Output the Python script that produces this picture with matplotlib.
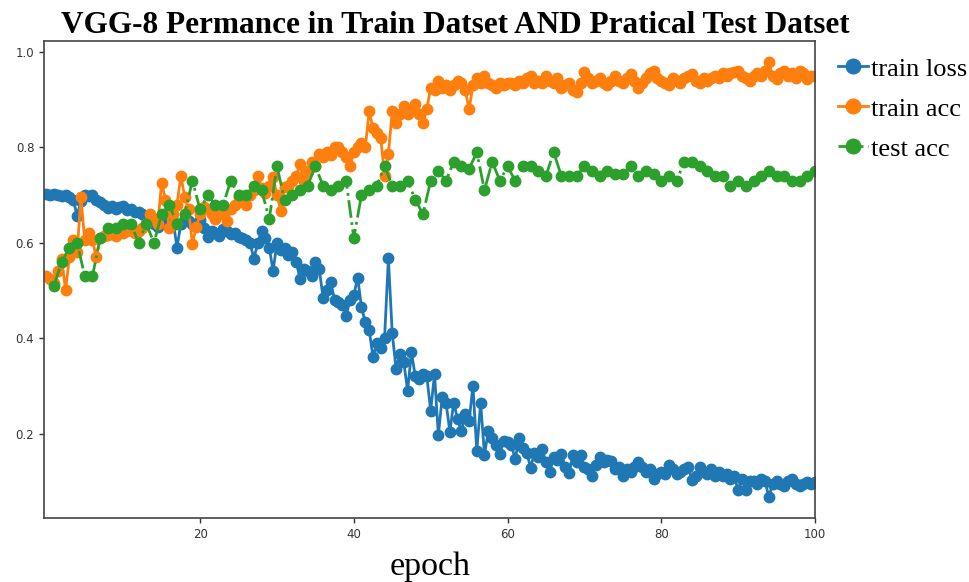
import numpy as np
import matplotlib
matplotlib.use("Agg")
import matplotlib.pyplot as plt

# train metrics are logged twice per epoch (0, 0.5, ..., 100)
train_loss = [
    0.703, 0.701, 0.702, 0.700, 0.699, 0.700, 0.695, 0.690, 0.657, 0.688,
    0.700, 0.697, 0.700, 0.690, 0.686, 0.680, 0.672, 0.676, 0.670, 0.674,
    0.676, 0.668, 0.670, 0.665, 0.664, 0.660, 0.655, 0.650, 0.640, 0.633,
    0.645, 0.650, 0.640, 0.645, 0.590, 0.640, 0.652, 0.645, 0.640, 0.635,
    0.647, 0.630, 0.613, 0.625, 0.620, 0.615, 0.628, 0.625, 0.618, 0.620,
    0.613, 0.610, 0.605, 0.600, 0.566, 0.600, 0.625, 0.610, 0.590, 0.541,
    0.600, 0.585, 0.590, 0.575, 0.580, 0.560, 0.525, 0.545, 0.540, 0.530,
    0.560, 0.545, 0.485, 0.500, 0.517, 0.480, 0.475, 0.470, 0.447, 0.480,
    0.490, 0.527, 0.465, 0.433, 0.417, 0.360, 0.390, 0.380, 0.400, 0.567,
    0.410, 0.336, 0.367, 0.350, 0.290, 0.370, 0.320, 0.315, 0.325, 0.320,
    0.248, 0.325, 0.196, 0.277, 0.264, 0.204, 0.265, 0.230, 0.205, 0.240,
    0.226, 0.300, 0.164, 0.264, 0.156, 0.205, 0.190, 0.175, 0.158, 0.185,
    0.182, 0.175, 0.147, 0.190, 0.170, 0.160, 0.128, 0.160, 0.150, 0.167,
    0.140, 0.120, 0.150, 0.145, 0.158, 0.130, 0.118, 0.154, 0.140, 0.154,
    0.130, 0.125, 0.110, 0.135, 0.150, 0.140, 0.145, 0.143, 0.125, 0.130,
    0.110, 0.125, 0.120, 0.130, 0.140, 0.130, 0.120, 0.125, 0.105, 0.115,
    0.120, 0.115, 0.135, 0.125, 0.115, 0.120, 0.125, 0.130, 0.102, 0.110,
    0.130, 0.120, 0.115, 0.125, 0.110, 0.120, 0.110, 0.115, 0.105, 0.110,
    0.081, 0.105, 0.081, 0.100, 0.100, 0.095, 0.105, 0.100, 0.067, 0.095,
    0.100, 0.095, 0.090, 0.100, 0.105, 0.095, 0.090, 0.095, 0.098, 0.095,
    0.098,
]

train_acc = [
    0.531, 0.525, 0.515, 0.540, 0.565, 0.500, 0.570, 0.605, 0.580, 0.695,
    0.605, 0.620, 0.605, 0.570, 0.610, 0.615, 0.617, 0.625, 0.615, 0.620,
    0.620, 0.625, 0.630, 0.620, 0.625, 0.630, 0.640, 0.660, 0.650, 0.640,
    0.726, 0.690, 0.630, 0.660, 0.680, 0.740, 0.696, 0.670, 0.598, 0.633,
    0.660, 0.675, 0.670, 0.660, 0.650, 0.665, 0.660, 0.646, 0.670, 0.680,
    0.696, 0.690, 0.680, 0.700, 0.710, 0.740, 0.715, 0.705, 0.720, 0.737,
    0.700, 0.667, 0.717, 0.720, 0.730, 0.740, 0.765, 0.730, 0.750, 0.770,
    0.760, 0.786, 0.780, 0.790, 0.785, 0.800, 0.800, 0.790, 0.780, 0.760,
    0.790, 0.800, 0.810, 0.800, 0.876, 0.840, 0.830, 0.820, 0.740, 0.786,
    0.876, 0.850, 0.870, 0.886, 0.870, 0.880, 0.890, 0.870, 0.850, 0.880,
    0.925, 0.920, 0.940, 0.925, 0.930, 0.920, 0.930, 0.940, 0.935, 0.920,
    0.880, 0.930, 0.945, 0.935, 0.950, 0.935, 0.930, 0.925, 0.935, 0.930,
    0.935, 0.935, 0.930, 0.940, 0.935, 0.945, 0.950, 0.935, 0.940, 0.935,
    0.950, 0.940, 0.935, 0.945, 0.925, 0.930, 0.935, 0.920, 0.915, 0.935,
    0.957, 0.945, 0.935, 0.940, 0.946, 0.935, 0.930, 0.940, 0.950, 0.940,
    0.935, 0.945, 0.953, 0.940, 0.925, 0.935, 0.945, 0.955, 0.960, 0.945,
    0.940, 0.935, 0.930, 0.945, 0.940, 0.935, 0.945, 0.950, 0.953, 0.940,
    0.935, 0.945, 0.940, 0.945, 0.950, 0.946, 0.955, 0.950, 0.955, 0.958,
    0.960, 0.950, 0.945, 0.940, 0.950, 0.955, 0.950, 0.960, 0.978, 0.950,
    0.943, 0.955, 0.960, 0.950, 0.955, 0.945, 0.960, 0.955, 0.943, 0.950,
    0.950,
]

# test accuracy once per epoch, epochs 1..100
test_acc = [
    0.51, 0.56, 0.59, 0.60, 0.53, 0.53, 0.61, 0.63, 0.63, 0.64,
    0.64, 0.60, 0.64, 0.60, 0.66, 0.68, 0.64, 0.66, 0.73, 0.67,
    0.70, 0.68, 0.68, 0.73, 0.70, 0.70, 0.72, 0.71, 0.65, 0.76,
    0.69, 0.70, 0.71, 0.72, 0.76, 0.72, 0.71, 0.72, 0.73, 0.61,
    0.70, 0.71, 0.72, 0.76, 0.72, 0.72, 0.73, 0.69, 0.66, 0.73,
    0.75, 0.73, 0.77, 0.76, 0.755, 0.79, 0.71, 0.77, 0.73, 0.76,
    0.73, 0.76, 0.76, 0.75, 0.74, 0.79, 0.74, 0.74, 0.74, 0.76,
    0.75, 0.74, 0.75, 0.745, 0.745, 0.76, 0.74, 0.75, 0.745, 0.73,
    0.74, 0.73, 0.77, 0.77, 0.76, 0.75, 0.74, 0.74, 0.72, 0.73,
    0.72, 0.73, 0.74, 0.75, 0.74, 0.74, 0.73, 0.73, 0.74, 0.75,
]

train_epoch = np.arange(len(train_loss)) * 0.5
test_epoch = np.arange(1, len(test_acc) + 1)

serif = ["Liberation Serif", "DejaVu Serif"]

fig = plt.figure(figsize=(9.7, 5.82), dpi=100)
ax = fig.add_axes([0.0454, 0.110, 0.7948, 0.8196])

l1, = ax.plot(train_epoch, train_loss, "-o", color="#1f77b4", linewidth=2, markersize=7.5)
l2, = ax.plot(train_epoch, train_acc, "-o", color="#ff7f0e", linewidth=2, markersize=7.5)
l3, = ax.plot(test_epoch, test_acc, "-.o", color="#2ca02c", linewidth=2, markersize=7.5)

ax.set_xlim(-0.3, 100)
ax.set_ylim(0.023, 1.023)
ax.set_xticks([20, 40, 60, 80, 100])
ax.set_yticks([0.2, 0.4, 0.6, 0.8, 1.0])
ax.tick_params(labelsize=8.5, colors="#333333", length=3.5, width=1)
for s in ax.spines.values():
    s.set_color("#444444")
    s.set_linewidth(1.2)

fig.text(0.469, 0.943, "VGG-8 Permance in Train Datset AND Pratical Test Datset",
         ha="center", va="baseline", fontsize=22.5, fontweight="bold", family=serif)
fig.text(0.443, 0.012, "epoch", ha="center", va="baseline", fontsize=24.5, family=serif)

fig.legend([l1, l2, l3], ["train loss", "train acc", "test acc"],
           loc="upper left", bbox_to_anchor=(0.864, 0.902), frameon=False,
           prop={"family": serif, "size": 19}, borderpad=0, borderaxespad=0,
           handlelength=1.15, handletextpad=0.1, labelspacing=0.63, markerscale=1.4)

fig.savefig("out.png", dpi=100)
